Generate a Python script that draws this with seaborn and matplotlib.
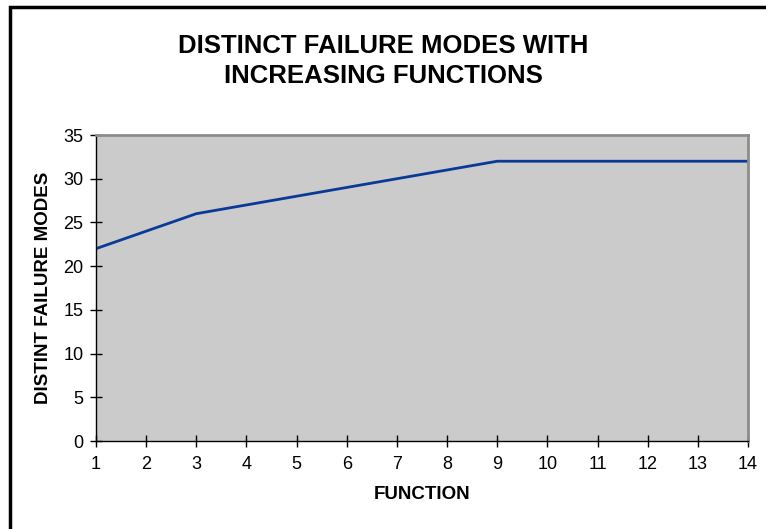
import matplotlib
matplotlib.use("Agg")
import matplotlib.pyplot as plt
from matplotlib.patches import Rectangle
import seaborn as sns
import pandas as pd

# data
functions = [1, 2, 3, 4, 5, 6, 7, 8, 9, 10, 11, 12, 13, 14]
failure_modes = [22, 24, 26, 27, 28, 29, 30, 31, 32, 32, 32, 32, 32, 32]
y_ticks = [0, 5, 10, 15, 20, 25, 30, 35]

df = pd.DataFrame({"function": functions, "modes": failure_modes})

sns.set_style("white")
plt.rcParams['font.family'] = ['Liberation Sans', 'DejaVu Sans']
plt.rcParams['text.color'] = 'black'
plt.rcParams['axes.labelcolor'] = 'black'

fig = plt.figure(figsize=(7.66, 5.29), dpi=100)
ax = fig.add_axes([96 / 766, 88 / 529, 652 / 766, 306 / 529])
ax.set_facecolor('#CBCBCB')

sns.lineplot(data=df, x="function", y="modes", ax=ax, color='#0A3A98', linewidth=2)

ax.set_xlim(1, 14)
ax.set_ylim(0, 35)
ax.set_xticks(functions)
ax.set_yticks(y_ticks)
ax.tick_params(bottom=True, left=True, direction='inout', length=8, width=1,
               labelsize=13, colors='black', pad=5)
ax.tick_params(axis='x', pad=7)

for side in ['top', 'right']:
    ax.spines[side].set_color('#8C8C8C')
    ax.spines[side].set_linewidth(2)
for side in ['left', 'bottom']:
    ax.spines[side].set_color('black')
    ax.spines[side].set_linewidth(1)

ax.set_xlabel("FUNCTION", fontsize=13.5, fontweight='bold', labelpad=9)
ax.set_ylabel("DISTINT FAILURE MODES", fontsize=13.5, fontweight='bold', labelpad=8)

fig.text(0.5, 1 - 61 / 529, "DISTINCT FAILURE MODES WITH\nINCREASING FUNCTIONS",
         ha='center', va='center', fontsize=18.5, fontweight='bold', linespacing=1.27)

# chart frame (only left and top edges are inside the image)
fig.patches.append(Rectangle((10 / 766, -0.1), 1.2, 1 - 7 / 529 + 0.1, transform=fig.transFigure,
                             fill=False, edgecolor='black', linewidth=2.5))

fig.savefig("out.png", dpi=100, facecolor='white')
